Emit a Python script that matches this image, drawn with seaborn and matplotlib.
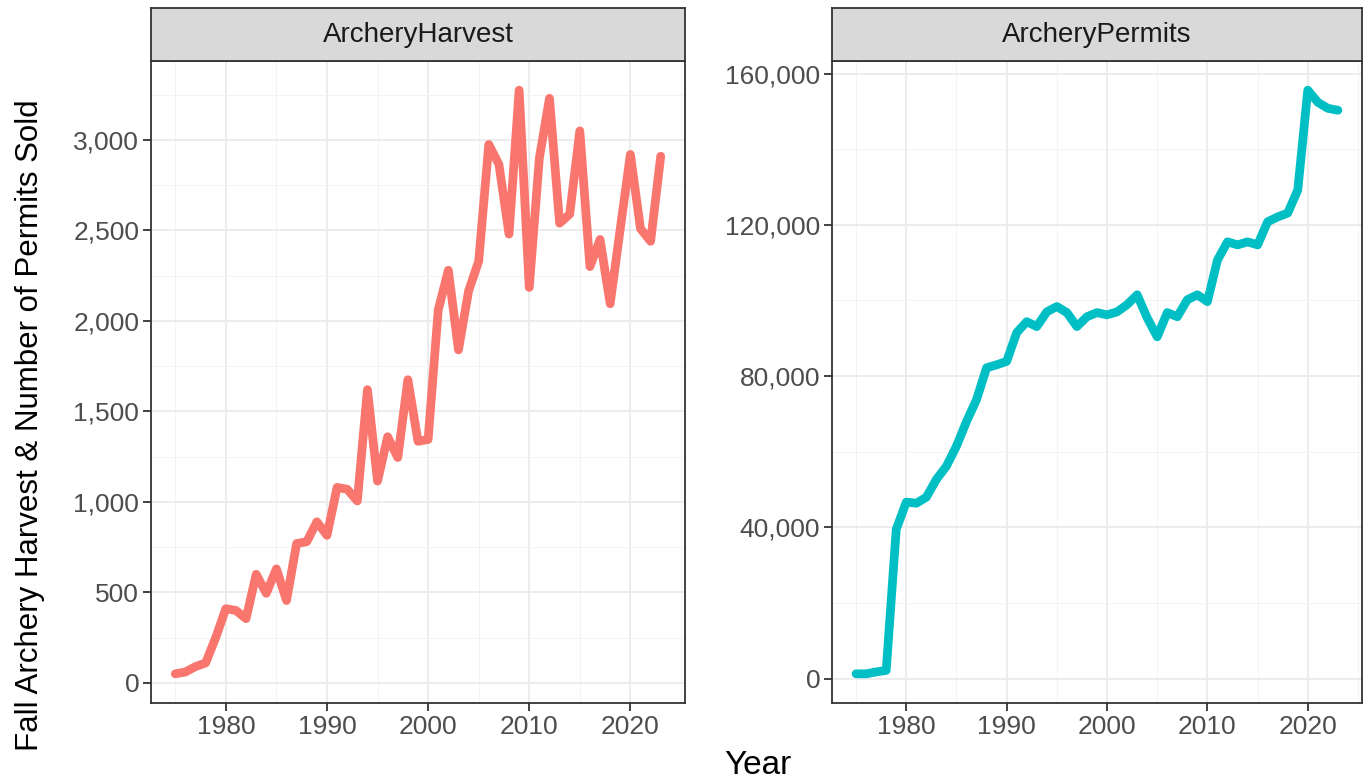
import numpy as np
import pandas as pd
import seaborn as sns
import matplotlib.pyplot as plt
from matplotlib.ticker import FuncFormatter, MultipleLocator

years = list(range(1975, 2024))

archery_harvest = [50, 60, 90, 110, 250, 410, 400, 355, 600, 495,
                   630, 455, 770, 780, 890, 815, 1080, 1070, 1005, 1620,
                   1115, 1360, 1245, 1675, 1335, 1345, 2060, 2280, 1840, 2165,
                   2330, 2975, 2865, 2480, 3275, 2185, 2900, 3230, 2540, 2590,
                   3050, 2300, 2450, 2095, 2510, 2920, 2510, 2440, 2910]

archery_permits = [1300, 1300, 1800, 2200, 39500, 46700, 46400, 48000, 52700, 56200,
                   61500, 68000, 73800, 82200, 83000, 83900, 91500, 94400, 93100, 97000,
                   98400, 96800, 93100, 95700, 96800, 96200, 97000, 98900, 101500, 95400,
                   90400, 96800, 95700, 100200, 101500, 99700, 110700, 115500, 114700, 115500,
                   114700, 120800, 122100, 123100, 129200, 155600, 152400, 150800, 150300]

panels = ["ArcheryHarvest", "ArcheryPermits"]
colors = ["#F8766D", "#00BFC4"]

df = pd.DataFrame({"Year": years * 2,
                   "value": archery_harvest + archery_permits,
                   "variable": [panels[0]] * len(years) + [panels[1]] * len(years)})

sns.set_theme(style="white")
plt.rcParams['font.family'] = ['Liberation Sans', 'DejaVu Sans']

W, H = 1369, 784
fig = plt.figure(figsize=(W / 100, H / 100), dpi=100)

# panel boxes in pixels: left, right, top, bottom
boxes = [(151, 685, 61, 703), (832, 1362, 61, 703)]
ymajor = [500, 40000]
yminor = [250, 20000]

comma = FuncFormatter(lambda v, p: f"{v:,.0f}")

for i, name in enumerate(panels):
    l, r, t, b = boxes[i]
    ax = fig.add_axes([l / W, (H - b) / H, (r - l) / W, (b - t) / H])
    sub = df[df["variable"] == name]
    sns.lineplot(data=sub, x="Year", y="value", color=colors[i], lw=6.3,
                 ax=ax, legend=False)
    ax.margins(x=0.05, y=0.05)
    ax.set_facecolor("white")
    ax.xaxis.set_major_locator(MultipleLocator(10))
    ax.xaxis.set_minor_locator(MultipleLocator(5))
    ax.yaxis.set_major_locator(MultipleLocator(ymajor[i]))
    ax.yaxis.set_minor_locator(MultipleLocator(yminor[i]))
    ax.yaxis.set_major_formatter(comma)
    ax.grid(which="major", color="#EBEBEB", lw=1.3)
    ax.grid(which="minor", color="#F3F3F3", lw=0.7)
    ax.set_axisbelow(True)
    for s in ax.spines.values():
        s.set_color("#333333")
        s.set_linewidth(1.3)
    ax.tick_params(which="major", length=5.5, width=1.3, color="#333333",
                   labelsize=19, labelcolor="#4D4D4D", pad=3,
                   bottom=True, left=True)
    ax.tick_params(which="minor", length=0)
    ax.set_xlabel("")
    ax.set_ylabel("")

    # facet strip
    sax = fig.add_axes([l / W, (H - t) / H, (r - l) / W, (t - 8) / H])
    sax.set_facecolor("#D9D9D9")
    sax.set_xticks([])
    sax.set_yticks([])
    for s in sax.spines.values():
        s.set_color("#333333")
        s.set_linewidth(1.3)
    sax.text(0.5, 0.5, name, ha="center", va="center", fontsize=20,
             color="#1A1A1A", transform=sax.transAxes)

fig.text(758 / W, 1 - 766 / H, "Year", ha="center", va="center",
         fontsize=24, color="black")
fig.text(30 / W, 1 - 425 / H, "Fall Archery Harvest & Number of Permits Sold",
         rotation=90, ha="center", va="center", fontsize=22.5, color="black")

fig.savefig("out.png", dpi=100)
